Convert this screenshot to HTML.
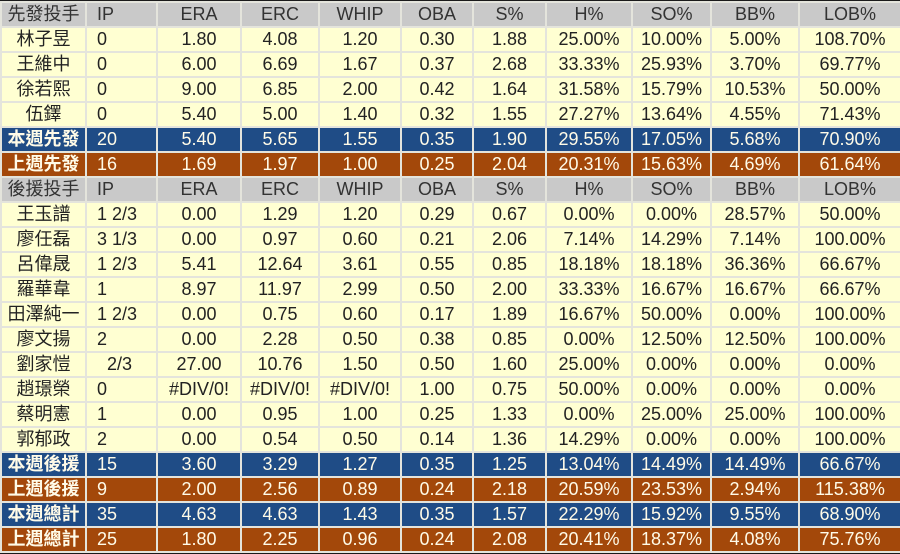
<!DOCTYPE html>
<html><head><meta charset="utf-8"><style>
body{margin:0;width:900px;height:554px;background:#1a1a1a;overflow:hidden;font-family:"Liberation Sans","Noto Sans CJK TC",sans-serif;}
table{position:absolute;left:0;top:1px;border-collapse:collapse;table-layout:fixed;width:900px;}
td{height:23px;padding:0;border:2px solid #e4e4dc;text-align:center;font-size:18px;line-height:23px;white-space:nowrap;overflow:hidden;color:#222;}
td.ip{text-align:left;padding-left:10px;}
tr.h td{background:#c9c9c9;color:#333;}
tr.y td{background:#ffffd2;}
tr.b td{background:#1f4c86;color:#fffbe8;}
tr.o td{background:#a3480a;color:#fffbe8;}
tr.b td:first-child,tr.o td:first-child{font-weight:bold;}
</style></head><body>
<table>
<colgroup><col style="width:85px"><col style="width:71px"><col style="width:84px"><col style="width:78px"><col style="width:82px"><col style="width:72px"><col style="width:73px"><col style="width:86px"><col style="width:79px"><col style="width:88px"><col style="width:102px"></colgroup>
<tbody id="tb"></tbody></table>
<script>
const hdr=["IP","ERA","ERC","WHIP","OBA","S%","H%","SO%","BB%","LOB%"];
const rows=[
["h","先發投手"],
["y","林子昱","0","1.80","4.08","1.20","0.30","1.88","25.00%","10.00%","5.00%","108.70%"],
["y","王維中","0","6.00","6.69","1.67","0.37","2.68","33.33%","25.93%","3.70%","69.77%"],
["y","徐若熙","0","9.00","6.85","2.00","0.42","1.64","31.58%","15.79%","10.53%","50.00%"],
["y","伍鐸","0","5.40","5.00","1.40","0.32","1.55","27.27%","13.64%","4.55%","71.43%"],
["b","本週先發","20","5.40","5.65","1.55","0.35","1.90","29.55%","17.05%","5.68%","70.90%"],
["o","上週先發","16","1.69","1.97","1.00","0.25","2.04","20.31%","15.63%","4.69%","61.64%"],
["h","後援投手"],
["y","王玉譜","1 2/3","0.00","1.29","1.20","0.29","0.67","0.00%","0.00%","28.57%","50.00%"],
["y","廖任磊","3 1/3","0.00","0.97","0.60","0.21","2.06","7.14%","14.29%","7.14%","100.00%"],
["y","呂偉晟","1 2/3","5.41","12.64","3.61","0.55","0.85","18.18%","18.18%","36.36%","66.67%"],
["y","羅華韋","1","8.97","11.97","2.99","0.50","2.00","33.33%","16.67%","16.67%","66.67%"],
["y","田澤純一","1 2/3","0.00","0.75","0.60","0.17","1.89","16.67%","50.00%","0.00%","100.00%"],
["y","廖文揚","2","0.00","2.28","0.50","0.38","0.85","0.00%","12.50%","12.50%","100.00%"],
["y","劉家愷","\u00a0\u00a02/3","27.00","10.76","1.50","0.50","1.60","25.00%","0.00%","0.00%","0.00%"],
["y","趙璟榮","0","#DIV/0!","#DIV/0!","#DIV/0!","1.00","0.75","50.00%","0.00%","0.00%","0.00%"],
["y","蔡明憲","1","0.00","0.95","1.00","0.25","1.33","0.00%","25.00%","25.00%","100.00%"],
["y","郭郁政","2","0.00","0.54","0.50","0.14","1.36","14.29%","0.00%","0.00%","100.00%"],
["b","本週後援","15","3.60","3.29","1.27","0.35","1.25","13.04%","14.49%","14.49%","66.67%"],
["o","上週後援","9","2.00","2.56","0.89","0.24","2.18","20.59%","23.53%","2.94%","115.38%"],
["b","本週總計","35","4.63","4.63","1.43","0.35","1.57","22.29%","15.92%","9.55%","68.90%"],
["o","上週總計","25","1.80","2.25","0.96","0.24","2.08","20.41%","18.37%","4.08%","75.76%"]
];
const tb=document.getElementById('tb');
rows.forEach(r=>{
  const tr=document.createElement('tr');
  tr.className=r[0];
  
  
  const cells=r[0]==='h'?[r[1]].concat(hdr):r.slice(1);
  cells.forEach((c,i)=>{
    const td=document.createElement('td');
    td.textContent=c;
    if(i===1)td.className='ip';
    
    
    tr.appendChild(td);
  });
  tb.appendChild(tr);
});
</script>
</body></html>
